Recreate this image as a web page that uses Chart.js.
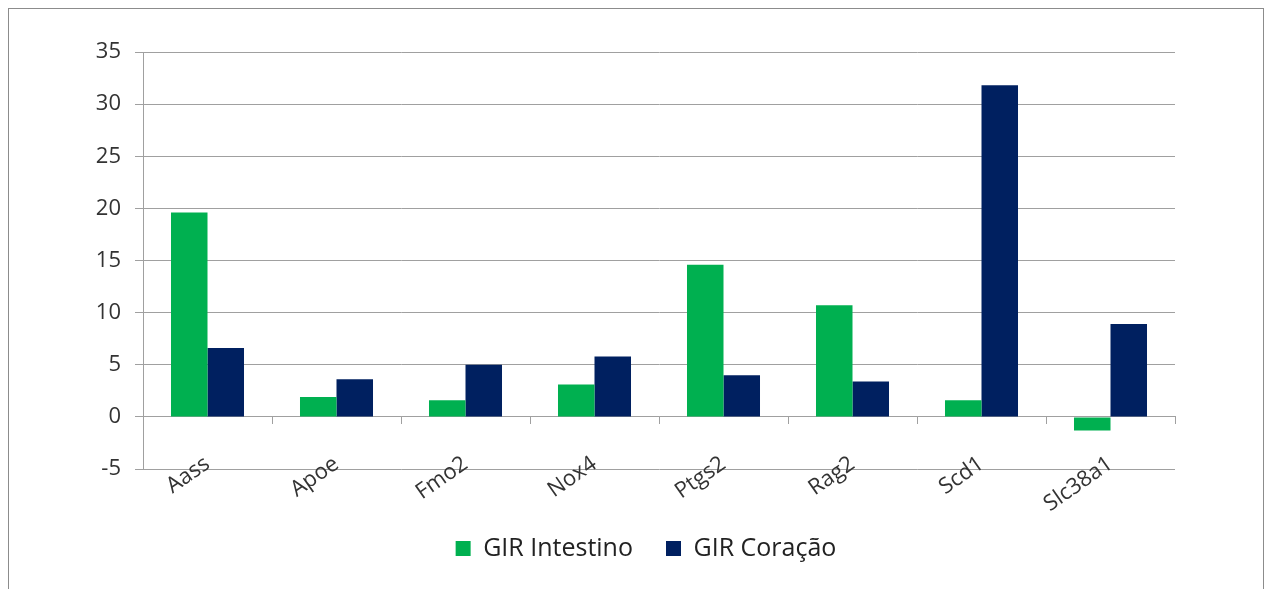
<!DOCTYPE html>
<html>
<head>
<meta charset="utf-8">
<title>GIR Intestino vs GIR Coração</title>
<script src="https://cdn.jsdelivr.net/npm/chart.js@4.4.1/dist/chart.umd.min.js"></script>
<style>
    html, body { margin: 0; padding: 0; background: #fff; overflow: hidden; }
    #frame { position: absolute; left: 8px; top: 8px; width: 1254px; height: 600px; border: 1px solid #8c8c8c; }
    canvas { display: block; }
</style>
</head>
<body>
<div id="frame"><canvas id="girChart" width="1254" height="600"></canvas></div>
<script>
// genes on the x axis
const genes = ['Aass', 'Apoe', 'Fmo2', 'Nox4', 'Ptgs2', 'Rag2', 'Scd1', 'Slc38a1'];

// values
const girIntestino = [19.6, 1.9, 1.6, 3.1, 14.6, 10.7, 1.6, -1.3];
const girCoracao   = [6.6, 3.6, 5.0, 5.8, 4.0, 3.4, 31.8, 8.9];

// y axis range
const yMin = -5;
const yMax = 35;
const yStep = 5;

document.addEventListener('DOMContentLoaded', function() {
    "use strict";

    const gridGray = '#a0a0a0';
    const textGray = '#333333';
    const fontFamily = '"Open Sans", "Noto Sans", sans-serif';

    // move the legend to where the Excel one sits
    const legendShift = {
        id: 'legendShift',
        afterLayout(chart) {
            const lg = chart.legend;
            if (lg) {
                lg.top += 34;
                lg.bottom += 34;
                lg.left += 54;
                lg.right += 54;
            }
        }
    };

    new Chart(document.getElementById('girChart'), {
        type: 'bar',
        data: {
            labels: genes,
            datasets: [{
                label: 'GIR Intestino',
                data: girIntestino,
                backgroundColor: '#00b050',
                borderWidth: 0,
                categoryPercentage: 0.566,
                barPercentage: 1
            }, {
                label: 'GIR Coração',
                data: girCoracao,
                backgroundColor: '#002060',
                borderWidth: 0,
                categoryPercentage: 0.566,
                barPercentage: 1
            }]
        },
        plugins: [legendShift],
        options: {
            responsive: false,
            animation: false,
            layout: {
                padding: { top: 43, right: 88, bottom: 72, left: 0 }
            },
            plugins: {
                tooltip: { enabled: false },
                legend: {
                    position: 'bottom',
                    labels: {
                        boxWidth: 15,
                        boxHeight: 15,
                        padding: 33,
                        color: '#222',
                        font: { family: fontFamily, size: 25 }
                    }
                }
            },
            scales: {
                x: {
                    position: { y: 0 },
                    grid: {
                        offset: true,
                        drawOnChartArea: false,
                        drawTicks: true,
                        tickLength: 7,
                        color: gridGray
                    },
                    border: { display: true, color: gridGray, width: 1 },
                    ticks: {
                        color: textGray,
                        padding: 27,
                        minRotation: 35,
                        maxRotation: 35,
                        font: { family: fontFamily, size: 22 }
                    }
                },
                y: {
                    min: yMin,
                    max: yMax,
                    afterFit: function(scale) { scale.width = 134; },
                    grid: {
                        color: gridGray,
                        tickLength: 8,
                        lineWidth: 1
                    },
                    border: { display: true, color: gridGray, width: 1 },
                    ticks: {
                        stepSize: yStep,
                        color: textGray,
                        padding: 14,
                        font: { family: fontFamily, size: 22 }
                    }
                }
            }
        }
    });
});
</script>
</body>
</html>
